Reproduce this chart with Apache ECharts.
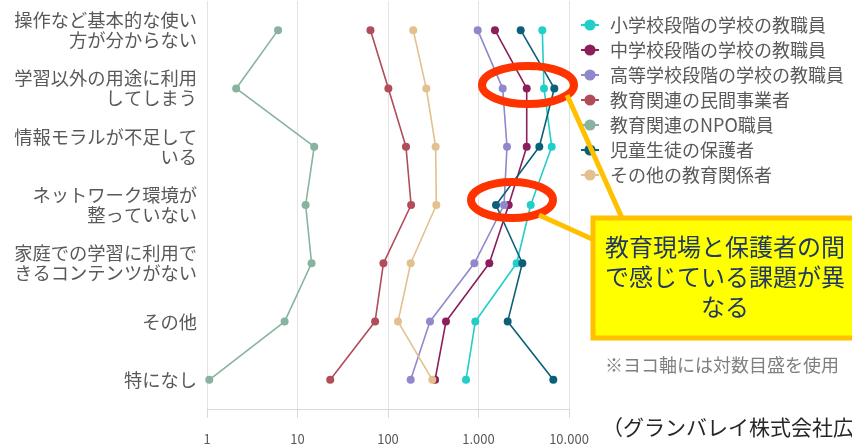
<!DOCTYPE html>
<html><head><meta charset="utf-8">
<script src="https://cdn.jsdelivr.net/npm/echarts@6/dist/echarts.min.js"></script>
<style>html,body{margin:0;padding:0;background:#fff}#c{width:852px;height:446px}</style>
</head><body><div id="c"></div>
<script>
const categories = [
  '操作など基本的な使い\n方が分からない',
  '学習以外の用途に利用\nしてしまう',
  '情報モラルが不足して\nいる',
  'ネットワーク環境が\n整っていない',
  '家庭での学習に利用で\nきるコンテンツがない',
  'その他',
  '特になし'
];
const seriesNames = ['小学校段階の学校の教職員','中学校段階の学校の教職員','高等学校段階の学校の教職員','教育関連の民間事業者','教育関連のNPO職員','児童生徒の保護者','その他の教育関係者'];
const elementary = [5070, 5290, 6440, 3775, 2640, 922, 728];
const juniorHigh = [1520, 3410, 3410, 2155, 1317, 437, 331];
const highSchool = [980, 1850, 2065, 1914, 899, 291, 178];
const privateBiz = [64, 101, 158, 180, 89, 72, 23];
const npoStaff = [6.1, 2.1, 15.3, 12.3, 14.3, 7.2, 1.06];
const guardians = [2925, 6880, 4700, 1560, 3050, 2100, 6710];
const otherEdu = [190, 265, 336, 342, 178, 129, 309];
const xTicks = [1, 10, 100, 1000, 10000];

const values = [elementary, juniorHigh, highSchool, privateBiz, npoStaff, guardians, otherEdu];
const colors = ['#22CEC8','#8B1E5B','#8F88CD','#B04D58','#87B39F','#0C5F79','#E2C08F'];
const FONT = '"Noto Sans CJK JP", "Noto Sans", sans-serif';

const chart = echarts.init(document.getElementById('c'));
chart.setOption({
  animation: false,
  textStyle: { fontFamily: FONT },
  grid: { left: 207, right: 283, top: 1, bottom: 36, containLabel: false },
  legend: {
    orient: 'vertical', left: 575, top: 10, itemGap: 5, itemWidth: 18, itemHeight: 14,
    textStyle: { fontSize: 18, color: '#595959', lineHeight: 20, fontFamily: FONT, padding: [0, 0, 0, 6] },
    data: seriesNames
  },
  xAxis: {
    type: 'log', logBase: 10, min: 1, max: 10000,
    axisLine: { show: true, lineStyle: { color: '#d9d9d9', width: 1 } },
    axisTick: { show: true, length: 9, lineStyle: { color: '#d9d9d9' } },
    splitLine: { show: true, lineStyle: { color: '#e3e3e3', width: 1 } },
    minorTick: { show: false },
    axisLabel: {
      color: '#595959', fontSize: 13, margin: 24, fontFamily: FONT,
      formatter: v => xTicks.includes(Math.round(v)) ? String(Math.round(v)).replace(/\B(?=(\d{3})+(?!\d))/g, '.') : ''
    }
  },
  yAxis: {
    type: 'category', inverse: true, data: categories,
    axisLine: { show: false }, axisTick: { show: false }, splitLine: { show: false },
    axisLabel: { color: '#595959', fontSize: 18.3, lineHeight: 20, margin: 10, align: 'right', fontFamily: FONT }
  },
  series: seriesNames.map((name, i) => ({
    name, type: 'line',
    data: values[i].map((v, j) => [v, categories[j]]),
    symbol: 'circle', symbolSize: 8,
    itemStyle: { color: colors[i] },
    lineStyle: { color: colors[i], width: 1.6 },
    emphasis: { disabled: true }
  })),
  graphic: [
    { type: 'ellipse', z: 100, shape: { cx: 528, cy: 85, rx: 46, ry: 19 }, style: { fill: 'none', stroke: '#FF3300', lineWidth: 8 } },
    { type: 'ellipse', z: 100, shape: { cx: 512, cy: 200, rx: 41, ry: 18 }, style: { fill: 'none', stroke: '#FF3300', lineWidth: 8 } },
    { type: 'line', z: 101, shape: { x1: 567, y1: 95, x2: 622, y2: 218 }, style: { stroke: '#FFC000', lineWidth: 5 } },
    { type: 'line', z: 101, shape: { x1: 539, y1: 215, x2: 592, y2: 239 }, style: { stroke: '#FFC000', lineWidth: 5 } },
    { type: 'rect', z: 102, shape: { x: 593, y: 218, width: 280, height: 120 }, style: { fill: '#FFFF00', stroke: '#FFC000', lineWidth: 5 } },
    { type: 'text', z: 103, style: { x: 725, y: 232, text: '教育現場と保護者の間\nで感じている課題が異\nなる', font: '24px ' + FONT, fill: '#1F3864', align: 'center', verticalAlign: 'top', lineHeight: 30 } },
    { type: 'text', z: 103, style: { x: 605, y: 356, text: '※ヨコ軸には対数目盛を使用', font: '18px ' + FONT, fill: '#7F7F7F' } },
    { type: 'text', z: 103, style: { x: 602, y: 417, text: '（グランバレイ株式会社広報資料より）', font: '21px ' + FONT, fill: '#262626' } }
  ]
});
</script>
</body></html>
